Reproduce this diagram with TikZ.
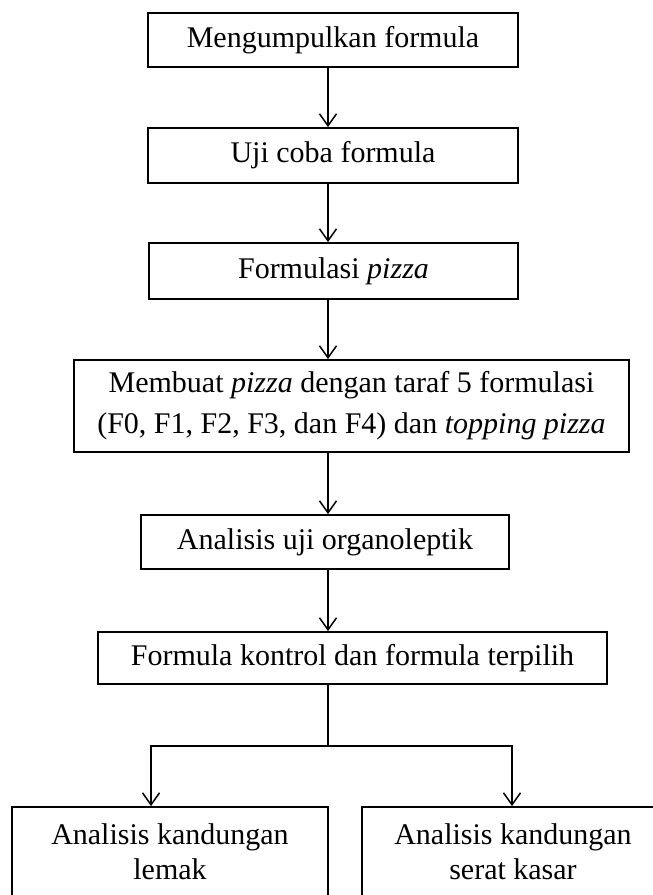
\documentclass[tikz,border=0pt]{standalone}
\usepackage{fontspec}
\setmainfont{Liberation Serif}
\usetikzlibrary{arrows.meta}
\begin{document}
\begin{tikzpicture}[x=1pt,y=-1pt,
  box/.style={draw, line width=1.8pt, inner sep=0pt, align=center, font=\fontsize{30}{41}\selectfont},
  twoline/.style={font=\fontsize{30}{35}\selectfont},
  arr/.style={line width=1.5pt, -{Straight Barb[length=12pt,width=17pt,line width=1.5pt]}},
  link/.style={line width=1.5pt}]
\useasboundingbox (0,0) rectangle (653,895);
\fill[white] (0,0) rectangle (653,895);
\clip (0,0) rectangle (653,895);
\coordinate (axis) at (328,0);
\node[box, minimum width=370, minimum height=54] (b1) at (333,40) {Mengumpulkan formula};
\node[box, minimum width=370, minimum height=55] (b2) at (333,155.5) {Uji coba formula};
\node[box, minimum width=369, minimum height=56] (b3) at (333.5,271) {Formulasi \textit{pizza}};
\node[box, minimum width=555, minimum height=92] (b4) at (351.5,406) {Membuat \textit{pizza} dengan taraf 5 formulasi\\(F0, F1, F2, F3, dan F4) dan \textit{topping pizza}};
\node[box, minimum width=368, minimum height=54] (b5) at (325,542) {Analisis uji organoleptik};
\node[box, minimum width=509, minimum height=52] (b6) at (352.5,658) {Formula kontrol dan formula terpilih};
\node[box, twoline, minimum width=316, minimum height=90] (b7) at (170,852) {Analisis kandungan\\lemak};
\node[box, twoline, minimum width=302, minimum height=90] (b8) at (513,852) {Analisis kandungan\\serat kasar};
\coordinate (split) at (328,746);
\coordinate (lb) at (151,746);
\coordinate (rb) at (512,746);
\draw[arr] (b1.south -| axis) -- (b2.north -| axis);
\draw[arr] (b2.south -| axis) -- (b3.north -| axis);
\draw[arr] (b3.south -| axis) -- (b4.north -| axis);
\draw[arr] (b4.south -| axis) -- (b5.north -| axis);
\draw[arr] (b5.south -| axis) -- (b6.north -| axis);
\draw[link] (b6.south -| axis) -- (split);
\draw[arr] (split) -- (lb) -- (lb |- b7.north);
\draw[arr] (split) -- (rb) -- (rb |- b8.north);
\end{tikzpicture}
\end{document}
